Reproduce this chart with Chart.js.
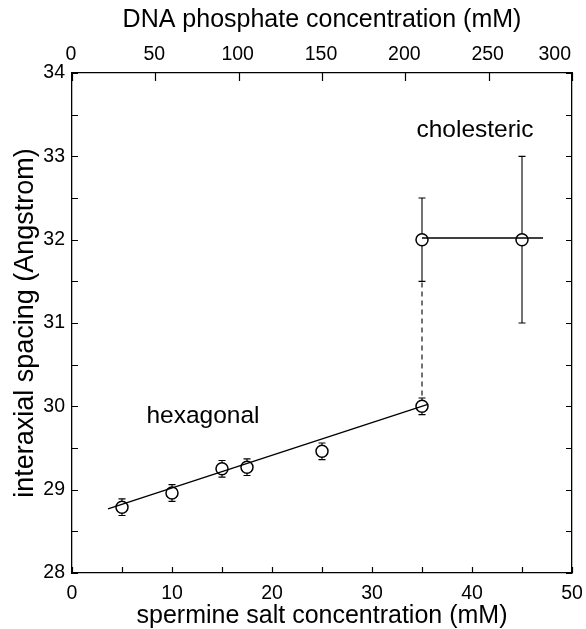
<!DOCTYPE html>
<html>
<head>
<meta charset="utf-8">
<script src="https://cdn.jsdelivr.net/npm/chart.js@4/dist/chart.umd.min.js"></script>
<style>
  html, body { margin: 0; padding: 0; background: #fff; }
  #wrap { width: 586px; height: 629px; }
</style>
</head>
<body>
<div id="wrap"><canvas id="c" width="586" height="629"></canvas></div>
<script>
// Hexagonal phase: interaxial spacing vs spermine concentration
const spermineHex = [5, 10, 15, 17.5, 25, 35];
const spacingHex  = [28.79, 28.96, 29.25, 29.27, 29.46, 30.0];
const errHex      = [0.1, 0.1, 0.1, 0.1, 0.1, 0.1];

// Cholesteric phase
const spermineChol = [35, 45];
const spacingChol  = [32.0, 32.0];
const errChol      = [0.5, 1.0];

// Guide lines
const fitHexX  = [3.6, 35.5];
const fitHexY  = [28.77, 30.02];
const fitCholX = [35, 47.1];
const fitCholY = [32.02, 32.02];
const jumpX    = [35, 35];
const jumpY    = [30.13, 31.5];

// Tick labels
const bottomLabels = [0, 10, 20, 30, 40, 50];
const topLabels    = [0, 50, 100, 150, 200, 250, 300];
const leftLabels   = [28, 29, 30, 31, 32, 33, 34];

// Tick marks (inward)
const bottomMarks = [0, 5, 10, 15, 20, 25, 30, 35, 40, 45, 50];
const topMarks    = [0, 50, 100, 150, 200, 250, 300];
const sideMarks   = [28, 28.5, 29, 29.5, 30, 30.5, 31, 31.5, 32, 32.5, 33, 33.5, 34];

const FONT = "'Liberation Sans', Arial, Helvetica, sans-serif";
const TICK_FONT_SIZE = 19.5;
const pts = (xs, ys) => xs.map((x, i) => ({ x: x, y: ys[i] }));
const fixedTicks = vals => scale => { scale.ticks = vals.map(v => ({ value: v })); };

// Inward tick marks on all four sides
const tickMarks = {
  id: 'tickMarks',
  afterDraw(chart) {
    const { ctx, chartArea: a, scales } = chart;
    ctx.save();
    ctx.strokeStyle = '#000';
    ctx.lineWidth = 1.2;
    ctx.beginPath();
    bottomMarks.forEach(v => {
      const px = Math.round(scales.x.getPixelForValue(v)) + 0.5;
      ctx.moveTo(px, a.bottom); ctx.lineTo(px, a.bottom - 6);
    });
    topMarks.forEach(v => {
      const px = Math.round(scales.x2.getPixelForValue(v)) + 0.5;
      ctx.moveTo(px, a.top); ctx.lineTo(px, a.top + 8);
    });
    sideMarks.forEach(v => {
      const py = Math.round(scales.y.getPixelForValue(v)) + 0.5;
      ctx.moveTo(a.left, py); ctx.lineTo(a.left + 6, py);
      ctx.moveTo(a.right, py); ctx.lineTo(a.right - 6, py);
    });
    ctx.stroke();
    ctx.restore();
  }
};

// Top axis labels: the last one is kept inside the frame
const topAxisLabels = {
  id: 'topAxisLabels',
  afterDraw(chart) {
    const { ctx, chartArea: a, scales: { x2 } } = chart;
    ctx.save();
    ctx.fillStyle = '#000';
    ctx.font = TICK_FONT_SIZE + 'px ' + FONT;
    ctx.textBaseline = 'alphabetic';
    topLabels.forEach((v, i) => {
      const px = x2.getPixelForValue(v);
      const last = i === topLabels.length - 1;
      ctx.textAlign = last ? 'right' : 'center';
      ctx.fillText(String(v), px - 1, a.top - 13);
    });
    ctx.restore();
  }
};

// Left axis title, centred on the axis
const leftTitle = {
  id: 'leftTitle',
  afterDraw(chart) {
    const { ctx, chartArea: a } = chart;
    ctx.save();
    ctx.fillStyle = '#000';
    ctx.font = '27px ' + FONT;
    ctx.textAlign = 'center';
    ctx.textBaseline = 'alphabetic';
    ctx.translate(33, (a.top + a.bottom) / 2);
    ctx.rotate(-Math.PI / 2);
    ctx.fillText('interaxial spacing (Angstrom)', 0, 0);
    ctx.restore();
  }
};

// Vertical error bars with small caps
const errorBars = {
  id: 'errorBars',
  beforeDatasetsDraw(chart) {
    const { ctx, scales: { x, y } } = chart;
    const draw = (xs, ys, es) => {
      xs.forEach((xv, i) => {
        const px = x.getPixelForValue(xv);
        const top = y.getPixelForValue(ys[i] + es[i]);
        const bot = y.getPixelForValue(ys[i] - es[i]);
        ctx.moveTo(px, top); ctx.lineTo(px, bot);
        ctx.moveTo(px - 3.5, top); ctx.lineTo(px + 3.5, top);
        ctx.moveTo(px - 3.5, bot); ctx.lineTo(px + 3.5, bot);
      });
    };
    ctx.save();
    ctx.strokeStyle = '#000';
    ctx.lineWidth = 1.1;
    ctx.beginPath();
    draw(spermineHex, spacingHex, errHex);
    draw(spermineChol, spacingChol, errChol);
    ctx.stroke();
    ctx.restore();
  }
};

// Phase labels inside the plot
const phaseLabels = {
  id: 'phaseLabels',
  afterDraw(chart) {
    const { ctx, scales: { x, y } } = chart;
    ctx.save();
    ctx.fillStyle = '#000';
    ctx.font = '24.5px ' + FONT;
    ctx.textAlign = 'center';
    ctx.textBaseline = 'alphabetic';
    ctx.fillText('hexagonal', x.getPixelForValue(13.1), y.getPixelForValue(29.80));
    ctx.fillText('cholesteric', x.getPixelForValue(40.3), y.getPixelForValue(33.23));
    ctx.restore();
  }
};

const axisBase = {
  type: 'linear',
  grid: { display: false, drawTicks: false },
  border: { display: true, color: '#000', width: 1.3 },
  ticks: { color: '#000', font: { family: FONT, size: TICK_FONT_SIZE }, autoSkip: false, maxRotation: 0 }
};

// keep the plot frame fixed regardless of label overhang
const noSidePad = s => { s.paddingLeft = 0; s.paddingRight = 0; };
const noEndPad = s => { s.paddingTop = 0; s.paddingBottom = 0; };

new Chart(document.getElementById('c'), {
  type: 'scatter',
  data: {
    datasets: [
      { type: 'line', data: pts(fitHexX, fitHexY), borderColor: '#000', borderWidth: 1.4,
        pointRadius: 0, fill: false, tension: 0 },
      { type: 'line', data: pts(fitCholX, fitCholY), borderColor: '#000', borderWidth: 1.4,
        pointRadius: 0, fill: false, tension: 0 },
      { type: 'line', data: pts(jumpX, jumpY), borderColor: '#000', borderWidth: 1.1,
        borderDash: [5, 4], pointRadius: 0, fill: false, tension: 0 },
      { data: pts(spermineHex, spacingHex), pointRadius: 6, pointBorderWidth: 1.5,
        pointBorderColor: '#000', pointBackgroundColor: '#fff', showLine: false },
      { data: pts(spermineChol, spacingChol), pointRadius: 6, pointBorderWidth: 1.5,
        pointBorderColor: '#000', pointBackgroundColor: '#fff', showLine: false }
    ]
  },
  options: {
    responsive: false,
    animation: false,
    devicePixelRatio: 1,
    layout: { padding: 0 },
    plugins: { legend: { display: false }, tooltip: { enabled: false } },
    scales: {
      x: Object.assign({}, axisBase, {
        position: 'bottom', min: 0, max: 50,
        afterBuildTicks: fixedTicks(bottomLabels),
        ticks: Object.assign({}, axisBase.ticks, { padding: 9 }),
        title: { display: true, text: 'spermine salt concentration (mM)', color: '#000',
                 font: { family: FONT, size: 25, lineHeight: 1.05 }, padding: { top: 0, bottom: 0 } },
        afterFit: s => { s.height = 56; noSidePad(s); }
      }),
      x2: Object.assign({}, axisBase, {
        position: 'top', min: 0, max: 300,
        afterBuildTicks: fixedTicks(topLabels),
        ticks: { display: false },
        title: { display: true, text: 'DNA phosphate concentration (mM)', color: '#000',
                 font: { family: FONT, size: 25 }, padding: { top: 5, bottom: 0 } },
        afterFit: s => { s.height = 73; noSidePad(s); }
      }),
      y: Object.assign({}, axisBase, {
        position: 'left', min: 28, max: 34,
        afterBuildTicks: fixedTicks(leftLabels),
        ticks: Object.assign({}, axisBase.ticks, { padding: 7 }),
        title: { display: false },
        afterFit: s => { s.width = 72; noEndPad(s); }
      }),
      y2: Object.assign({}, axisBase, {
        position: 'right', min: 28, max: 34,
        afterBuildTicks: fixedTicks(leftLabels),
        ticks: { display: false },
        afterFit: s => { s.width = 14; noEndPad(s); }
      })
    }
  },
  plugins: [errorBars, tickMarks, topAxisLabels, leftTitle, phaseLabels]
});
</script>
</body>
</html>
